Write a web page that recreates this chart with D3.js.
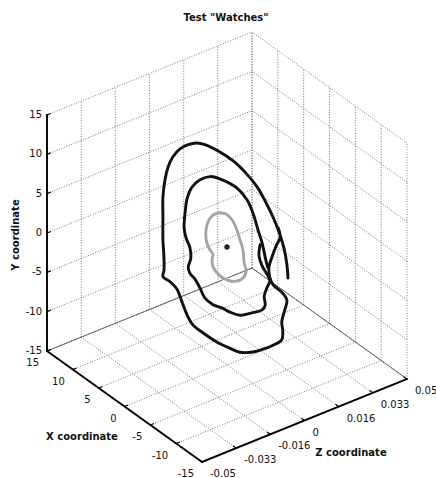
<!DOCTYPE html>
<html>
<head>
<meta charset="utf-8">
<script src="https://cdn.jsdelivr.net/npm/d3@7"></script>
<style>
  html, body { margin: 0; padding: 0; background: #fff; }
  svg { display: block; }
  text { font-family: "DejaVu Sans", sans-serif; fill: #111; }
</style>
</head>
<body>
<svg id="chart" width="436" height="478"></svg>
<script>
// ---------------- DATA ----------------
const title = 'Test "Watches"';
const xLabel = "X coordinate";
const yLabel = "Y coordinate";
const zLabel = "Z coordinate";

const xTicks = [-15, -10, -5, 0, 5, 10, 15];
const yTicks = [-15, -10, -5, 0, 5, 10, 15];
const zTicks = [-0.05, -0.0333, -0.0167, 0, 0.0167, 0.0333, 0.05];
const zTickLabels = ["-0.05", "-0.033", "-0.016", "0", "0.016", "0.033", "0.05"];

// trajectories: [X, Y, Z]
const outerCurve = [
  [-11.8, 1.6, 0], [-11.6, 3.2, 0], [-11.0, 5.1, 0], [-10.1, 6.6, 0], [-8.9, 8.0, 0],
  [-7.4, 9.3, 0], [-5.8, 10.4, 0], [-3.7, 11.1, 0], [-1.2, 11.5, 0], [1.7, 11.4, 0],
  [4.3, 11.0, 0], [5.8, 10.5, 0], [7.5, 9.5, 0], [9.1, 8.2, 0], [10.5, 6.5, 0],
  [11.4, 4.8, 0], [12.0, 2.9, 0], [12.4, 0.5, 0], [12.4, -2.0, 0], [12.4, -4.9, 0],
  [12.2, -7.1, 0], [12.2, -8.7, 0], [12.4, -9.6, 0], [11.0, -9.6, 0], [9.7, -9.9, 0],
  [8.7, -11.1, 0], [7.7, -12.3, 0], [6.6, -13.0, 0], [4.6, -13.1, 0], [1.9, -13.0, 0],
  [-0.6, -12.6, 0], [-2.5, -12.2, 0], [-5.0, -11.0, 0], [-7.0, -9.7, 0], [-8.9, -8.3, 0],
  [-10.6, -6.8, 0], [-10.8, -5.7, 0], [-10.6, -4.5, 0], [-11.2, -2.7, 0], [-11.6, -1.3, 0],
  [-10.8, -0.8, 0], [-8.9, -0.6, 0], [-8.3, 0.0, 0], [-8.1, 1.2, 0], [-8.7, 2.8, 0],
  [-9.5, 4.6, 0], [-10.3, 6.1, 0], [-9.9, 7.1, 0]
];

const middleCurve = [
  [-6.4, 3.3, 0], [-6.2, 1.8, 0], [-6.8, 0.8, 0], [-7.7, 0.2, 0], [-8.3, -0.4, 0],
  [-7.7, -1.6, 0], [-7.2, -2.9, 0], [-7.4, -3.9, 0], [-6.8, -4.8, 0], [-5.0, -6.0, 0],
  [-2.5, -7.5, 0], [-0.6, -8.0, 0], [1.0, -8.2, 0], [2.7, -8.6, 0], [4.3, -8.5, 0],
  [5.2, -7.7, 0], [6.2, -7.0, 0], [7.2, -6.7, 0], [7.5, -6.1, 0], [7.0, -4.7, 0],
  [7.2, -3.4, 0], [7.9, -2.6, 0], [8.3, -1.5, 0], [8.1, 0.6, 0], [7.7, 2.6, 0],
  [6.8, 4.4, 0], [5.2, 6.1, 0], [3.3, 7.4, 0], [1.4, 8.0, 0], [-1.9, 8.4, 0],
  [-3.9, 7.8, 0], [-5.0, 6.7, 0], [-6.0, 5.0, 0], [-6.8, 3.7, 0], [-7.2, 2.7, 0],
  [-7.5, 1.9, 0], [-7.9, 1.1, 0]
];

const innerCurve = [
  [1.4, 3.7, 0], [2.7, 2.8, 0], [3.7, 1.4, 0], [4.1, -0.1, 0], [3.9, -1.3, 0],
  [3.3, -1.9, 0], [2.7, -2.2, 0], [2.9, -3.0, 0], [2.7, -3.8, 0], [1.9, -4.2, 0],
  [0.8, -4.3, 0], [-1.2, -3.8, 0], [-3.1, -2.5, 0], [-3.7, -1.3, 0], [-3.3, -0.4, 0],
  [-3.1, 1.1, 0], [-2.5, 2.1, 0], [-1.9, 3.1, 0], [-1.0, 3.9, 0], [0.2, 4.1, 0],
  [1.4, 3.7, 0]
];

const centerPoint = [0, 0, 0];

// ---------------- PROJECTION ----------------
const origin = [202, 462];            // screen position of (X=-15, Y=-15, Z=-0.05)
const EX = [-155, -111];              // screen vector for full X range
const EZ = [205, -83];                // screen vector for full Z range
const EY = [0, -236];                 // screen vector for full Y range

const fx = d3.scaleLinear().domain([-15, 15]).range([0, 1]);
const fy = d3.scaleLinear().domain([-15, 15]).range([0, 1]);
const fz = d3.scaleLinear().domain([-0.05, 0.05]).range([0, 1]);

function proj(X, Y, Z) {
  const a = fx(X), b = fy(Y), c = fz(Z);
  return [origin[0] + a * EX[0] + b * EY[0] + c * EZ[0],
          origin[1] + a * EX[1] + b * EY[1] + c * EZ[1]];
}

const svg = d3.select("#chart");
const xMin = -15, xMax = 15, yMin = -15, yMax = 15, zMin = -0.05, zMax = 0.05;

function seg(g, p1, p2) {
  const a = proj(...p1), b = proj(...p2);
  return g.append("line").attr("x1", a[0]).attr("y1", a[1]).attr("x2", b[0]).attr("y2", b[1]);
}

// ---------------- GRID ----------------
const grid = svg.append("g")
  .attr("stroke", "#666").attr("stroke-width", 0.9)
  .attr("stroke-dasharray", "1,1.6").attr("fill", "none");

// left wall (X = 15)
zTicks.forEach(z => seg(grid, [xMax, yMin, z], [xMax, yMax, z]));
yTicks.forEach(y => seg(grid, [xMax, y, zMin], [xMax, y, zMax]));
// right wall (Z = 0.05)
xTicks.forEach(x => seg(grid, [x, yMin, zMax], [x, yMax, zMax]));
yTicks.forEach(y => seg(grid, [xMin, y, zMax], [xMax, y, zMax]));
// floor (Y = -15)
xTicks.forEach(x => seg(grid, [x, yMin, zMin], [x, yMin, zMax]));
zTicks.forEach(z => seg(grid, [xMin, yMin, z], [xMax, yMin, z]));

// floor back edges (solid, thin)
const edges = svg.append("g").attr("stroke", "#555").attr("stroke-width", 0.8);
seg(edges, [xMax, yMin, zMin], [xMax, yMin, zMax]);
seg(edges, [xMax, yMin, zMax], [xMin, yMin, zMax]);

// ---------------- AXES ----------------
const axes = svg.append("g").attr("stroke", "#000").attr("stroke-width", 1.9)
  .attr("stroke-linecap", "square");
seg(axes, [xMax, yMin, zMin], [xMax, yMax, zMin]);      // Y axis
seg(axes, [xMax, yMin, zMin], [xMin, yMin, zMin]);      // X axis
seg(axes, [xMin, yMin, zMin], [xMin, yMin, zMax]);      // Z axis

// ticks
const ticks = svg.append("g").attr("stroke", "#000").attr("stroke-width", 1.2);
function unit(v, len) { const l = Math.hypot(v[0], v[1]); return [v[0] / l * len, v[1] / l * len]; }
const tY = unit(EZ, 4), tX = unit(EZ, 4), tZ = unit(EX, 4);
yTicks.forEach(y => {
  const p = proj(xMax, y, zMin);
  ticks.append("line").attr("x1", p[0]).attr("y1", p[1]).attr("x2", p[0] + tY[0]).attr("y2", p[1] + tY[1]);
});
xTicks.forEach(x => {
  const p = proj(x, yMin, zMin);
  ticks.append("line").attr("x1", p[0]).attr("y1", p[1]).attr("x2", p[0] + tX[0]).attr("y2", p[1] + tX[1]);
});
zTicks.forEach(z => {
  const p = proj(xMin, yMin, z);
  ticks.append("line").attr("x1", p[0]).attr("y1", p[1]).attr("x2", p[0] + tZ[0]).attr("y2", p[1] + tZ[1]);
});

// tick labels
const labels = svg.append("g").attr("font-size", 10);
yTicks.forEach(y => {
  const p = proj(xMax, y, zMin);
  labels.append("text").attr("x", p[0] - 5).attr("y", p[1]).attr("dy", "0.3em")
    .attr("text-anchor", "end").text(y);
});
xTicks.forEach(x => {
  const p = proj(x, yMin, zMin);
  labels.append("text").attr("x", p[0] - 8).attr("y", p[1] + 15)
    .attr("text-anchor", "end").text(x);
});
zTicks.forEach((z, i) => {
  const p = proj(xMin, yMin, z);
  labels.append("text").attr("x", p[0] + 8).attr("y", p[1] + 15)
    .attr("text-anchor", "start").text(zTickLabels[i]);
});

// axis titles
svg.append("text").attr("x", 226).attr("y", 21).attr("text-anchor", "middle")
  .attr("font-size", 10).attr("font-weight", "bold").text(title);
svg.append("text").attr("x", 82).attr("y", 440).attr("text-anchor", "middle")
  .attr("font-size", 10).attr("font-weight", "bold").text(xLabel);
svg.append("text").attr("x", 351).attr("y", 456).attr("text-anchor", "middle")
  .attr("font-size", 10).attr("font-weight", "bold").text(zLabel);
svg.append("text").attr("transform", "translate(19,235) rotate(-90)").attr("text-anchor", "middle")
  .attr("font-size", 10).attr("font-weight", "bold").text(yLabel);

// ---------------- CURVES ----------------
const line = d3.line()
  .x(d => proj(d[0], d[1], d[2])[0])
  .y(d => proj(d[0], d[1], d[2])[1])
  .curve(d3.curveCatmullRom.alpha(0.5));

const curves = svg.append("g").attr("fill", "none").attr("stroke-linejoin", "round").attr("stroke-linecap", "round");
curves.append("path").datum(innerCurve).attr("d", line).attr("stroke", "#a5a5a5").attr("stroke-width", 2.9);
curves.append("path").datum(outerCurve).attr("d", line).attr("stroke", "#111").attr("stroke-width", 2.9);
curves.append("path").datum(middleCurve).attr("d", line).attr("stroke", "#111").attr("stroke-width", 2.9);

const cp = proj(...centerPoint);
svg.append("circle").attr("cx", cp[0]).attr("cy", cp[1]).attr("r", 2.7).attr("fill", "#222");
</script>
</body>
</html>
